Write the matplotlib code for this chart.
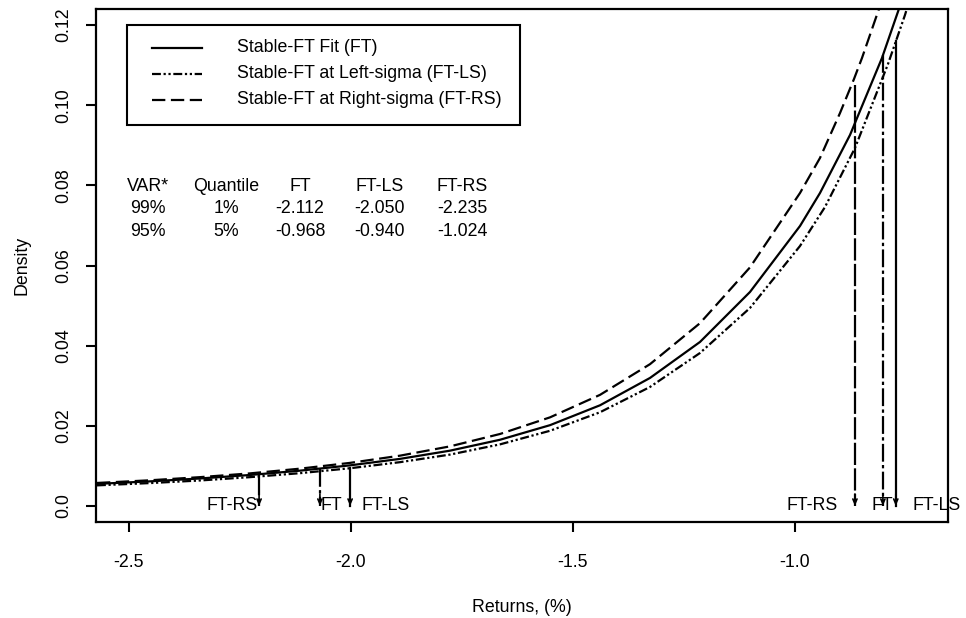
import matplotlib
matplotlib.use('Agg')
import matplotlib.pyplot as plt
from matplotlib.patches import Rectangle

plt.rcParams['font.family'] = ['Liberation Sans', 'DejaVu Sans']
plt.rcParams['axes.unicode_minus'] = False

# ---- data ----
ft_x = [-2.5721, -2.4527, -2.3401, -2.2275, -2.1149, -2.0023, -1.8896, -1.7770, -1.6644,
        -1.5518, -1.4392, -1.3266, -1.2140, -1.1014, -0.9887, -0.9437, -0.8761, -0.8041,
        -0.7613, -0.7297]
ft_y = [0.00551, 0.00614, 0.00686, 0.00773, 0.00881, 0.01013, 0.01175, 0.01380, 0.01652,
        0.02016, 0.02512, 0.03194, 0.04092, 0.05339, 0.06986, 0.07809, 0.09257, 0.11178,
        0.12550, 0.13648]

ls_x = [-2.5721, -2.4527, -2.3401, -2.2275, -2.1149, -2.0023, -1.8896, -1.7770, -1.6644,
        -1.5518, -1.4392, -1.3266, -1.2140, -1.1014, -0.9887, -0.9324, -0.8649, -0.7905,
        -0.7523, -0.7297]
ls_y = [0.00514, 0.00571, 0.00636, 0.00719, 0.00818, 0.00941, 0.01093, 0.01282, 0.01537,
        0.01876, 0.02338, 0.02969, 0.03817, 0.04940, 0.06487, 0.07460, 0.08932, 0.11028,
        0.12250, 0.13074]

rs_x = [-2.5721, -2.4527, -2.3401, -2.2275, -2.1149, -2.0023, -1.8896, -1.7770, -1.6644,
        -1.5518, -1.4392, -1.3266, -1.2140, -1.1014, -0.9887, -0.9437, -0.8986, -0.8671,
        -0.8491, -0.8086, -0.7748]
rs_y = [0.00574, 0.00641, 0.00719, 0.00813, 0.00931, 0.01075, 0.01255, 0.01487, 0.01796,
        0.02211, 0.02772, 0.03538, 0.04561, 0.05953, 0.07809, 0.08683, 0.09805, 0.10654,
        0.11178, 0.12475, 0.13598]

# arrows (quantile markers): x position, top of arrow, style key
arrow_x = [-2.207, -2.070, -2.002, -0.865, -0.802, -0.773]
arrow_top = [0.0083, 0.0093, 0.0094, 0.1050, 0.1125, 0.1160]
arrow_kind = ['RS', 'FT', 'LS', 'RS', 'FT', 'LS']

label_x = [-2.268, -2.045, -1.921, -0.962, -0.804, -0.680]
label_txt = ['FT-RS', 'FT', 'FT-LS', 'FT-RS', 'FT', 'FT-LS']

table_header = ['VAR*', 'Quantile', 'FT', 'FT-LS', 'FT-RS']
table_rows = [['99%', '1%', '-2.112', '-2.050', '-2.235'],
              ['95%', '5%', '-0.968', '-0.940', '-1.024']]

legend_labels = ['Stable-FT Fit (FT)', 'Stable-FT at Left-sigma (FT-LS)',
                 'Stable-FT at Right-sigma (FT-RS)']

x_ticks = [-2.5, -2.0, -1.5, -1.0]
x_ticklabels = ['-2.5', '-2.0', '-1.5', '-1.0']
y_ticks = [0.0, 0.02, 0.04, 0.06, 0.08, 0.10, 0.12]
y_ticklabels = ['0.0', '0.02', '0.04', '0.06', '0.08', '0.10', '0.12']

# ---- styles ----
LW = 1.6
sty = {
    'FT': dict(color='black', lw=LW, ls='-'),
    'LS': dict(color='black', lw=LW, ls=(0, (4, 1.2, 1, 1.2, 1, 1.2))),
    'RS': dict(color='black', lw=LW, ls=(0, (6, 2.5))),
}
arrow_sty = {
    'RS': (0, (10, 1.5)),
    'FT': (0, (8, 1.5, 1.5, 1.5)),
    'LS': '-',
}
FS = 12.8

fig = plt.figure(figsize=(9.66, 6.18), dpi=100)
ax = fig.add_axes([96 / 966, 96 / 618, 852 / 966, 513 / 618])

ax.plot(ft_x, ft_y, **sty['FT'])
ax.plot(ls_x, ls_y, **sty['LS'])
ax.plot(rs_x, rs_y, **sty['RS'])

for x, top, k in zip(arrow_x, arrow_top, arrow_kind):
    ax.plot([x, x], [top, 0.0], color='black', lw=LW, ls=arrow_sty[k])
    ax.annotate('', xy=(x, 0.0), xytext=(x, 0.003),
                arrowprops=dict(arrowstyle='->,head_length=0.35,head_width=0.15',
                                color='black', lw=1.2, shrinkA=0, shrinkB=0))

for x, t in zip(label_x, label_txt):
    ax.text(x, 0.0, t, ha='center', va='center', fontsize=FS)

# table
col_x = [-2.4572, -2.2815, -2.1149, -1.9347, -1.7500]
row_y = [0.0798, 0.0741, 0.0684]
for cx, h in zip(col_x, table_header):
    ax.text(cx, row_y[0], h, ha='center', va='center', fontsize=FS)
for ry, row in zip(row_y[1:], table_rows):
    for cx, v in zip(col_x, row):
        ax.text(cx, ry, v, ha='center', va='center', fontsize=FS)

# manual legend (axes fraction coordinates)
def ax_fx(px):
    return (px - 96) / 852

def ax_fy(py):
    return (522 - py) / 513

ax.add_patch(Rectangle((ax_fx(127), ax_fy(125)), ax_fx(520) - ax_fx(127),
                       ax_fy(25) - ax_fy(125), transform=ax.transAxes,
                       fill=False, edgecolor='black', lw=1.5, zorder=5))
leg_rows = [48, 74, 100]
for py, key, lab in zip(leg_rows, ['FT', 'LS', 'RS'], legend_labels):
    ax.plot([ax_fx(152), ax_fx(202)], [ax_fy(py), ax_fy(py)],
            transform=ax.transAxes, **sty[key])
    ax.text(ax_fx(237), ax_fy(py), lab, transform=ax.transAxes,
            ha='left', va='center', fontsize=FS)

ax.set_xlim(-2.5743, -0.6554)
ax.set_ylim(-0.0040, 0.1240)
ax.set_xticks(x_ticks)
ax.set_xticklabels(x_ticklabels)
ax.set_yticks(y_ticks)
ax.set_yticklabels(y_ticklabels, rotation=90, va='center')
ax.tick_params(direction='out', length=7, width=1.5, labelsize=FS)
ax.tick_params(axis='x', pad=16)
ax.tick_params(axis='y', pad=10)
for s in ax.spines.values():
    s.set_linewidth(1.6)

ax.set_xlabel('Returns, (%)', fontsize=FS, labelpad=20)
ax.set_ylabel('Density', fontsize=FS, labelpad=18)

fig.savefig('out.png', dpi=100)
